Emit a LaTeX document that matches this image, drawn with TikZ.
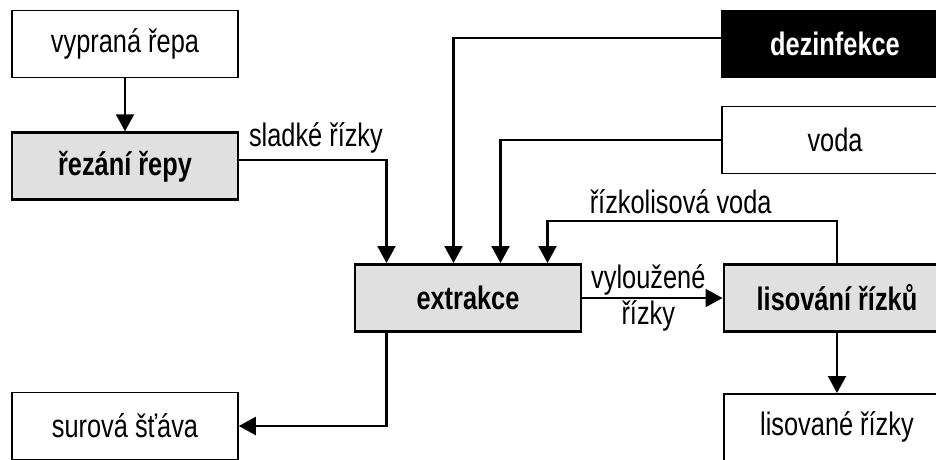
\documentclass[tikz,border=0pt]{standalone}
\usepackage{fontspec}
\setmainfont{Liberation Sans}[FakeStretch=0.78]
\usetikzlibrary{positioning,arrows.meta}

\begin{document}
\begin{tikzpicture}[
  x=0.2mm, y=-0.2mm,
  font=\fontsize{18.5}{20}\selectfont,
  box/.style={draw, line width=0.9pt, minimum width=45.2mm, minimum height=13.4mm, inner sep=0pt},
  plain/.style={box, fill=white},
  stage/.style={box, fill=black!12, line width=1.7pt, font=\fontsize{18.5}{20}\selectfont\bfseries},
  dark/.style={box, fill=black, text=white, font=\fontsize{18.5}{20}\selectfont\bfseries},
  arr/.style={-{Triangle[length=3.4mm, width=3.6mm]}, line width=1.2pt}
]
\useasboundingbox (0,0) rectangle (936,459);
\clip (0,0) rectangle (936,459);

\node[plain] (vyp) at (125,44) {vypraná řepa};
\node[stage, below=10.6mm of vyp] (rez) {řezání řepy};
\node[stage] (ext) at (468,298) {extrakce};
\node[stage, right=28mm of ext] (lis) {lisování řízků};
\node[plain] (sur) at (125,426) {surová šťáva};
\node[plain, below=12mm of lis] (lisr) {lisované řízky};
\node[dark] (dez) at (835,44) {dezinfekce};
\node[plain] (voda) at (835,140) {voda};

\draw[arr] (vyp) -- (rez);
\draw[arr] ([yshift=1.3mm]rez.east) -| ([xshift=6.6mm]ext.north west)
  node[pos=0.26, above] {sladké řízky};
\draw[arr] ([yshift=1.2mm]dez.west) -| ([xshift=20mm]ext.north west);
\draw[arr] (voda.west) -| ([xshift=29.4mm]ext.north west);
\draw[arr] (lis.north) -- ++(0,8.4mm) -| ([xshift=38.8mm]ext.north west)
  node[pos=0.27, above] {řízkolisová voda};
\draw[arr] (ext) -- node[pos=0.47, above, inner sep=1pt] {vyloužené}
  node[pos=0.47, below, inner sep=1pt] {řízky} (lis);
\draw[arr] ([xshift=6.6mm]ext.south west) |- (sur);
\draw[arr] (lis) -- (lisr);

\end{tikzpicture}
\end{document}
